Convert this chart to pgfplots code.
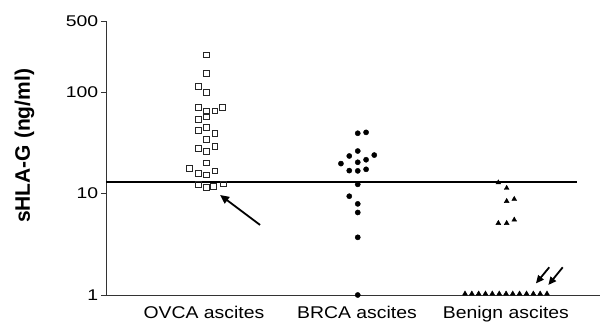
\documentclass[border=0pt]{standalone}
\usepackage{pgfplots}
\pgfplotsset{compat=1.18}
\usepackage{fontspec}
\setmainfont{Liberation Sans}
\usetikzlibrary{arrows.meta}

\begin{document}
\begin{tikzpicture}[x=1pt,y=1pt]
\path[use as bounding box] (-106,-29) rectangle (498,295);
\begin{axis}[
  at={(0,0)}, anchor=south west,
  scale only axis, width=494pt, height=274pt,
  ymode=log, ymin=1, ymax=500,
  xmin=0.3353, xmax=3.596,
  axis lines=left,
  axis line style={-, line width=0.9pt, black!80},
  ytick={1,10,100,500},
  yticklabels={1,10,100,500},
  minor ytick={},
  tick align=outside,
  major tick length=5pt,
  ytick style={line width=0.9pt, black!80},
  xtick={0.982,1.992,2.975},
  xticklabels={OVCA ascites,BRCA ascites,Benign ascites},
  xtick style={draw=none},
  /pgf/number format/assume math mode=true,
  yticklabel style={font=\fontsize{15.5}{16}\selectfont, xscale=1.25, inner sep=2pt},
  xticklabel style={font=\fontsize{17}{18}\selectfont, xscale=1.14, yshift=-3pt},
  ylabel={\textbf{sHLA-G (ng/ml)}},
  ylabel style={font=\fontsize{21}{22}\selectfont, at={(axis description cs:-0.165,0.544)}, anchor=center},
  clip=false,
]
% cut-off level
\addplot[line width=2pt, black] coordinates {(0.3353,13) (3.444,13)};

% ovarian cancer ascites
\addplot[only marks, mark=square, mark size=2.9pt, mark options={line width=0.9pt, draw=black!85}] coordinates {
(1.000,231) (1.000,153) (0.945,113) (1.000,98)
(0.945,70) (1.000,64) (1.055,65) (1.106,70)
(0.945,54) (1.000,57) (0.945,42) (1.000,45)
(1.000,34) (1.055,39) (0.945,28) (1.000,26) (1.055,29)
(1.000,20) (0.885,17.7) (0.945,15.8) (1.000,15.2) (1.055,16.7)
(0.945,12.3) (1.000,11.5) (1.044,11.7) (1.110,12.4)
};

% breast cancer ascites
\addplot[only marks, mark=*, mark size=2.6pt, mark options={fill=black, draw=black}] coordinates {
(1.997,39.2) (2.052,40)
(1.941,23.4) (1.997,26.2) (2.106,23.9)
(1.886,19.7) (1.997,20.3) (2.052,21.5)
(1.941,16.8) (1.997,16.7) (2.052,17.3)
(1.997,12.3) (1.941,9.4) (1.997,7.9) (1.997,6.5) (1.997,3.7) (1.997,1)
};

% benign ascites
\addplot[only marks, mark=triangle*, mark size=2.8pt, mark options={fill=black, draw=black}] coordinates {
(2.925,12.8) (2.980,11.3) (2.980,8.4) (3.030,8.8)
(2.925,5.1) (2.980,5.1) (3.030,5.5)
(2.705,1.03) (2.750,1.03) (2.795,1.03) (2.840,1.03) (2.885,1.03) (2.931,1.03) (2.976,1.03)
(3.020,1.03) (3.065,1.03) (3.111,1.03) (3.156,1.03) (3.201,1.03) (3.246,1.03)
};

% arrows
\draw[line width=1.8pt, -{Triangle[length=9pt,width=8pt]}] (axis cs:1.352,4.9) -- (axis cs:1.088,9.67);
\draw[line width=1.8pt, -{Triangle[length=8pt,width=7pt]}] (axis cs:3.261,1.875) -- (axis cs:3.173,1.30);
\draw[line width=1.8pt, -{Triangle[length=8pt,width=7pt]}] (axis cs:3.350,1.875) -- (axis cs:3.255,1.255);
\end{axis}
\end{tikzpicture}
\end{document}
